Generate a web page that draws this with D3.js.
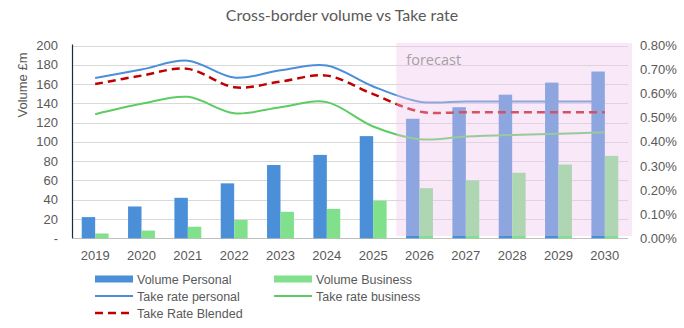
<!DOCTYPE html>
<html>
<head>
<meta charset="utf-8">
<script src="https://cdn.jsdelivr.net/npm/d3@7"></script>
<style>
  body { margin:0; background:#fff; }
  svg text { font-family: "Liberation Sans", Arial, sans-serif; fill:#595959; }
</style>
</head>
<body>
<svg id="chart" width="684" height="328"></svg>
<script>
// chart data
var years = ["2019","2020","2021","2022","2023","2024","2025","2026","2027","2028","2029","2030"];
var volPersonal = [22, 33, 42, 57, 76, 86.5, 106, 124, 136, 149, 161.5, 173];
var volBusiness = [5, 8, 12, 19, 27.5, 30.5, 39, 52, 60, 68, 76.5, 85.5];
var ratePersonal = [0.00665, 0.0070, 0.00737, 0.00667, 0.00697, 0.00717, 0.0063, 0.00567, 0.00568, 0.00568, 0.00568, 0.00568];
var rateBusiness = [0.00515, 0.00558, 0.00587, 0.00519, 0.00544, 0.00565, 0.00464, 0.00411, 0.00422, 0.00429, 0.00434, 0.0044];
var rateBlended = [0.0064, 0.00675, 0.00703, 0.00627, 0.0065, 0.00675, 0.00598, 0.00526, 0.00523, 0.00523, 0.00523, 0.00523];
var leftTicks = [0, 20, 40, 60, 80, 100, 120, 140, 160, 180, 200];
var rightTicks = [0, 0.001, 0.002, 0.003, 0.004, 0.005, 0.006, 0.007, 0.008];
var firstForecast = "2026";

var svg = d3.select("#chart");
// plot box (note: "top" is taken by window.top)
var pL = 72, pR = 628, pT = 45.5, pB = 238.3;

var x = d3.scaleBand().domain(years).range([pL, pR]).paddingInner(0.42).paddingOuter(0.21);
var xc = function(d){ return x(d) + x.bandwidth()/2; };
var y = d3.scaleLinear().domain([0, 200]).range([pB, pT]);
var y2 = d3.scaleLinear().domain([0, 0.008]).range([pB, pT]);

// title
svg.append("text").attr("x", 342).attr("y", 21).attr("text-anchor","middle")
  .style("font-family","Lato, sans-serif").style("font-size","16px").text("Cross-border volume vs Take rate");

// gridlines
svg.append("g").selectAll("line").data(leftTicks).join("line")
  .attr("x1", pL).attr("x2", pR)
  .attr("y1", function(d){ return Math.round(y(d))+0.5; })
  .attr("y2", function(d){ return Math.round(y(d))+0.5; })
  .attr("stroke", function(d){ return d==0 ? "#bfbfbf" : "#d9d9d9"; }).attr("stroke-width",1);

// left axis labels
svg.append("g").selectAll("text").data(leftTicks).join("text")
  .attr("x", 58).attr("y", function(d){ return y(d)+4.5; })
  .attr("text-anchor","end").style("font-size","13px")
  .text(function(d){ return d==0 ? "-" : d; });

svg.append("line").attr("x1", pL+0.5).attr("x2", pL+0.5).attr("y1", pT-1).attr("y2", pB)
  .attr("stroke","#1b2a44").attr("stroke-width",1.2);

svg.append("text").attr("transform","translate(27,85) rotate(-90)")
  .attr("text-anchor","middle").style("font-size","13px").text("Volume £m");

// right axis labels
svg.append("g").selectAll("text").data(rightTicks).join("text")
  .attr("x", 640).attr("y", function(d){ return y2(d)+4.5; })
  .style("font-size","13px")
  .text(function(d){ return d3.format(".2%")(d); });

// x labels
svg.append("g").selectAll("text").data(years).join("text")
  .attr("x", function(d){ return xc(d); }).attr("y", 260)
  .attr("text-anchor","middle").style("font-size","13px").text(function(d){ return d; });

// bars
var bw = x.bandwidth()/2;
svg.append("g").selectAll("rect").data(years).join("rect")
  .attr("x", function(d){ return x(d); }).attr("width", bw)
  .attr("y", function(d,i){ return y(volPersonal[i]); })
  .attr("height", function(d,i){ return y(0) - y(volPersonal[i]); })
  .attr("fill","#4a8fd8");
svg.append("g").selectAll("rect").data(years).join("rect")
  .attr("x", function(d){ return x(d)+bw; }).attr("width", bw)
  .attr("y", function(d,i){ return y(volBusiness[i]); })
  .attr("height", function(d,i){ return y(0) - y(volBusiness[i]); })
  .attr("fill","#80e08c");

// lines
function addLine(vals, color, dash){
  var line = d3.line().x(function(d,i){ return xc(years[i]); }).y(function(d){ return y2(d); })
    .curve(d3.curveCardinal.tension(0));
  svg.append("path").datum(vals).attr("d", line).attr("fill","none")
    .attr("stroke", color).attr("stroke-width", dash ? 2.5 : 2)
    .attr("stroke-dasharray", dash || null);
}
addLine(ratePersonal, "#4a8fd8");
addLine(rateBusiness, "#5ccc63");
addLine(rateBlended, "#c00000", "8,5");

// forecast overlay
var fx = x(firstForecast) - x.step()*x.paddingInner()/2;
svg.append("rect").attr("x", fx).attr("y", 43).attr("width", pR + 4 - fx).attr("height", 236 - 43)
  .attr("fill","rgb(240,200,235)").attr("fill-opacity",0.41);
svg.append("text").attr("x", fx + 10).attr("y", 65).style("font-size","14.5px")
  .style("font-family","'Open Sans', sans-serif").style("fill","#a6a0a6").text("forecast");

// legend
var legend = [
  {name:"Volume Personal", color:"#4a8fd8", type:"bar", col:0, row:0},
  {name:"Volume Business", color:"#80e08c", type:"bar", col:1, row:0},
  {name:"Take rate personal", color:"#4a8fd8", type:"line", col:0, row:1},
  {name:"Take rate business", color:"#5ccc63", type:"line", col:1, row:1},
  {name:"Take Rate Blended", color:"#c00000", type:"dash", col:0, row:2}
];
var lg = svg.append("g").selectAll("g").data(legend).join("g")
  .attr("transform", function(d){ return "translate(" + (95 + d.col*179) + "," + (279 + d.row*17) + ")"; });
lg.each(function(d){
  var g = d3.select(this);
  if (d.type == "bar") {
    g.append("rect").attr("x",0).attr("y",-3.5).attr("width",38).attr("height",7).attr("fill",d.color);
  } else {
    g.append("line").attr("x1",0).attr("x2",38).attr("y1",0).attr("y2",0)
      .attr("stroke",d.color).attr("stroke-width", d.type=="dash" ? 2.5 : 2)
      .attr("stroke-dasharray", d.type=="dash" ? "8,5" : null);
  }
  g.append("text").attr("x",42).attr("y",4.5).style("font-size","12.5px").text(d.name);
});
</script>
</body>
</html>
